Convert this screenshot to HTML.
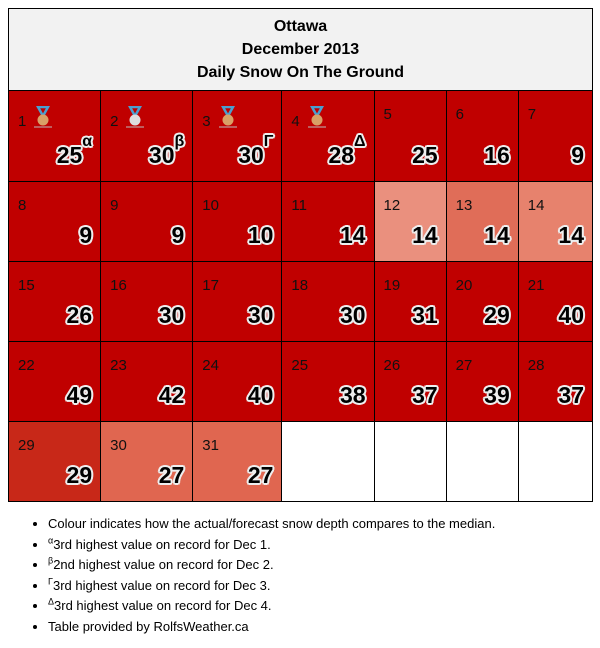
<!DOCTYPE html>
<html><head><meta charset="utf-8"><style>
body{margin:0;background:#fff;font-family:"Liberation Sans","DejaVu Sans",sans-serif;width:600px;height:648px;position:relative}
table{position:absolute;left:8px;top:8px;border-collapse:collapse;table-layout:fixed;width:585px}
td{border:1px solid #000;padding:0;position:relative;vertical-align:top;box-sizing:border-box}
th{border:1px solid #000;background:#f2f2f2;height:82px;padding:0;box-sizing:border-box;font-size:16px;font-weight:bold;line-height:23px;color:#000}
.d{position:absolute;left:9px;top:15px;font-size:15px;color:#111}
.v{position:absolute;right:8px;bottom:12px;font-size:23px;font-weight:bold;color:#000;text-shadow:-1.5px -1.5px 0 #eee,1.5px -1.5px 0 #eee,-1.5px 1.5px 0 #eee,1.5px 1.5px 0 #eee,0 2px 0 #eee,0 -2px 0 #eee,2px 0 0 #eee,-2px 0 0 #eee}
.v sup{font-size:16px;line-height:0;vertical-align:top;position:relative;top:0px}
.m{display:inline-block;vertical-align:-2px;margin-left:6px}
.r td{height:80px}
ul{position:absolute;left:8px;top:514px;margin:0;padding-left:40px;font-size:13px;line-height:20.5px;color:#000}
ul sup{font-size:9px;line-height:0}
</style></head><body>
<table>
<colgroup><col style="width:92px"><col style="width:92px"><col style="width:89px"><col style="width:92px"><col style="width:72px"><col style="width:72px"><col style="width:74px"></colgroup>
<tr><th colspan="7">Ottawa<br>December 2013<br>Daily Snow On The Ground</th></tr>
<tr style="height:91px" id="r1"></tr>
<tr class="r" id="r2"></tr><tr class="r" id="r3"></tr><tr class="r" id="r4"></tr><tr class="r" id="r5"></tr>
</table>
<ul>
<li>Colour indicates how the actual/forecast snow depth compares to the median.</li>
<li><sup>α</sup>3rd highest value on record for Dec 1.</li>
<li><sup>β</sup>2nd highest value on record for Dec 2.</li>
<li><sup>Γ</sup>3rd highest value on record for Dec 3.</li>
<li><sup>Δ</sup>3rd highest value on record for Dec 4.</li>
<li>Table provided by RolfsWeather.ca</li>
</ul>
<script>
const days=[1,2,3,4,5,6,7,8,9,10,11,12,13,14,15,16,17,18,19,20,21,22,23,24,25,26,27,28,29,30,31];
const depths=[25,30,30,28,25,16,9,9,9,10,14,14,14,14,26,30,30,30,31,29,40,49,42,40,38,37,39,37,29,27,27];
const marks=["α","β","Γ","Δ"];
const medals=["#d9a066","#dddddd","#d9a066","#d9a066"];
const colors={12:"#ea907e",13:"#e06d58",14:"#e7826d",29:"#c82818",30:"#e06650",31:"#e06650"};
const rows=["r1","r2","r3","r4","r5"];
for(let i=0;i<35;i++){
  const tr=document.getElementById(rows[Math.floor(i/7)]);
  const td=document.createElement('td');
  if(i<days.length){
    
    
    td.style.background=colors[days[i]]||"#c00000";
    let medal='';
    if(i<4) medal='<svg class="m" width="22" height="22" viewBox="0 0 22 22"><path d="M6 1h10l-5 9z" fill="none" stroke="#4a9fd0" stroke-width="2.5"/><circle cx="11" cy="14" r="5.5" fill="'+medals[i]+'"/><rect x="2" y="20.5" width="18" height="1" fill="#bbb"/></svg>';
    td.innerHTML='<span class="d">'+days[i]+medal+'</span><span class="v">'+depths[i]+(i<4?'<sup>'+marks[i]+'</sup>':'')+'</span>';
  } else {
    
    
    td.style.background="#fff";
  }
  tr.appendChild(td);
}
</script>
</body></html>
